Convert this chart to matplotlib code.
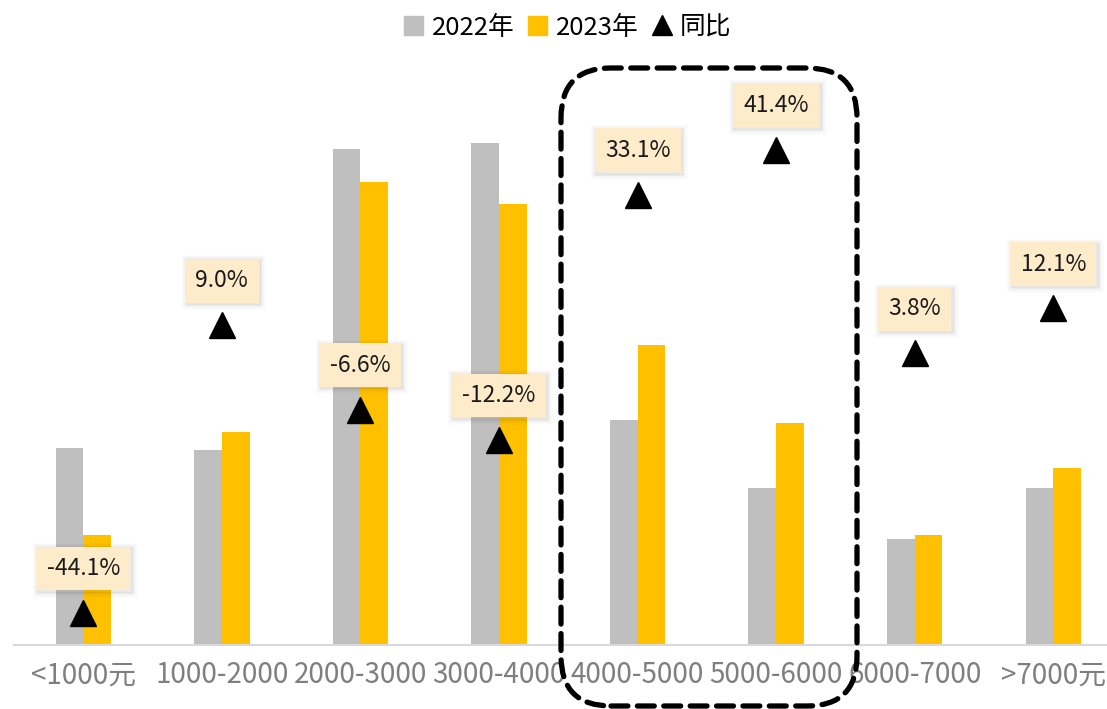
import matplotlib
matplotlib.use("Agg")
import matplotlib.pyplot as plt
import matplotlib.patheffects as pe
from matplotlib.patches import FancyBboxPatch
from matplotlib.lines import Line2D
from matplotlib.patches import Patch
import numpy as np

plt.rcParams['font.family'] = ['Noto Sans CJK SC', 'DejaVu Sans']

# 价格段与两年数据
categories = ['<1000元', '1000-2000', '2000-3000', '3000-4000',
              '4000-5000', '5000-6000', '6000-7000', '>7000元']
sales_2022 = [19.7, 19.5, 49.6, 50.2, 22.5, 15.7, 10.6, 15.7]
sales_2023 = [11.0, 21.3, 46.3, 44.1, 30.0, 22.2, 11.0, 17.7]
yoy = [-44.1, 9.0, -6.6, -12.2, 33.1, 41.4, 3.8, 12.1]

GRAY = '#BFBFBF'
YELLOW = '#FFC000'

fig = plt.figure(figsize=(11.07, 7.09), dpi=100)
ax = fig.add_axes([14 / 1107, 64 / 709, 1108.6 / 1107, 605 / 709])
ax2 = ax.twinx()

x = np.arange(len(categories))
w = 0.2
ax.bar(x - w / 2, sales_2022, width=w, color=GRAY, zorder=2)
ax.bar(x + w / 2, sales_2023, width=w, color=YELLOW, zorder=2)
ax.set_xlim(-0.5, 7.5)
ax.set_ylim(0, 60.5)
ax.set_yticks([])
for s in ['top', 'right', 'left']:
    ax.spines[s].set_visible(False)
ax.spines['bottom'].set_color('#D9D9D9')
ax.spines['bottom'].set_linewidth(1.5)
ax.set_xticks(x)
ax.set_xticklabels(categories, fontsize=20, color='#7F7F7F')
ax.tick_params(axis='x', length=0, pad=11)

# 同比（次坐标轴）
ax2.plot(x, yoy, linestyle='none', marker='^', markersize=19,
         color='black', zorder=3)
ax2.set_ylim(-50.05, 61.68)
ax2.set_yticks([])
for s in ax2.spines.values():
    s.set_visible(False)

# 标签框的柔和阴影
shadow = [pe.Stroke(offset=(1, -1), linewidth=8, foreground='black', alpha=0.015),
          pe.Stroke(offset=(1, -1), linewidth=5.5, foreground='black', alpha=0.025),
          pe.Stroke(offset=(1, -1), linewidth=3, foreground='black', alpha=0.035),
          pe.Stroke(offset=(1, -1), linewidth=1, foreground='black', alpha=0.04),
          pe.Normal()]
for xi, v in zip(x, yoy):
    t = ax2.annotate(f'{v:.1f}%', xy=(xi, v), xytext=(0, 32),
                     textcoords='offset points', ha='center', va='center',
                     fontsize=16.5, color='#1A1A1A',
                     bbox=dict(boxstyle='square,pad=0.45', fc='#FDEBC9',
                               ec='none'))
    t.get_bbox_patch().set_path_effects(shadow)

# 虚线圆角框
box = FancyBboxPatch((5.61, 0.03), 2.96, 6.38,
                     boxstyle='round,pad=0,rounding_size=0.5',
                     transform=fig.dpi_scale_trans, fill=False,
                     ec='black', lw=3.8, linestyle=(0, (3.2, 1.8)),
                     capstyle='round', zorder=10, clip_on=False)
fig.patches.append(box)

handles = [Patch(color=GRAY, label='2022年'),
           Patch(color=YELLOW, label='2023年'),
           Line2D([], [], linestyle='none', marker='^', color='black',
                  markersize=14, label='同比')]
fig.legend(handles=handles, loc='upper center', bbox_to_anchor=(0.513, 1.012),
           ncol=3, frameon=False, fontsize=18.5, handlelength=0.75,
           handleheight=0.75, handletextpad=0.35, columnspacing=0.5)

fig.savefig('out.png', dpi=100)
